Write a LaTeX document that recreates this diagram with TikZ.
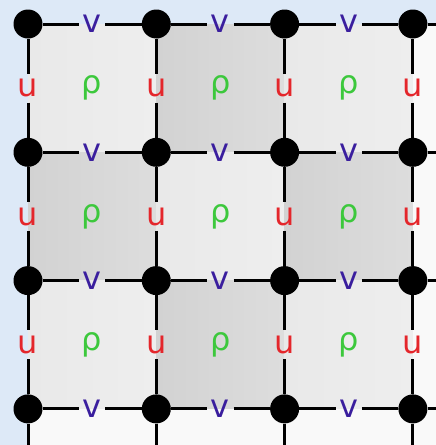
\documentclass[tikz,border=0pt]{standalone}
\usepackage{fontspec}
\setmainfont{DejaVu Sans}
\definecolor{bgblue}{HTML}{DDE9F7}
\definecolor{offwhite}{HTML}{F9F9F9}
\definecolor{ured}{HTML}{E4262B}
\definecolor{vblue}{HTML}{3A1E9E}
\definecolor{rgreen}{HTML}{3CC83C}
\definecolor{lightA}{HTML}{E9E9E9}
\definecolor{lightB}{HTML}{EEEEEE}
\definecolor{darkA}{HTML}{D2D2D2}
\definecolor{darkB}{HTML}{DDDDDD}
\begin{document}
\begin{tikzpicture}[x=1pt,y=-1pt,
  vert/.style={circle,fill=black,inner sep=0pt,minimum size=29pt},
  lab/.style={inner sep=4pt,font=\fontsize{32}{32}\selectfont},
  ulab/.style={lab,inner sep=5pt,text=ured},
  vlab/.style={lab,inner sep=3.5pt,text=vblue},
  rlab/.style={lab,text=rgreen},
  gridline/.style={line width=3pt,black}]
\useasboundingbox (0,0) rectangle (436,445);
% background
\fill[offwhite] (0,0) rectangle (436,445);
\fill[bgblue] (0,0) rectangle (436,24);
\fill[bgblue] (0,0) rectangle (28,445);
% cells
\foreach \i in {0,1,2}{
  \foreach \j in {0,1,2}{
    \pgfmathtruncatemacro{\parity}{mod(\i+\j,2)}
    \ifnum\parity=0
      \shade[left color=lightA,right color=lightB] ({28+128.3*\i},{24+128.3*\j}) rectangle ({28+128.3*(\i+1)},{24+128.3*(\j+1)});
    \else
      \shade[left color=darkA,right color=darkB] ({28+128.3*\i},{24+128.3*\j}) rectangle ({28+128.3*(\i+1)},{24+128.3*(\j+1)});
    \fi
  }
}
% vertices
\foreach \i in {0,...,3}{
  \foreach \j in {0,...,3}{
    \node[vert] (P\i\j) at ({28+128.3*\i},{24+128.3*\j}) {};
  }
}
% edge coordinates
\foreach \j in {0,...,3}{ \coordinate (E\j) at (436,{24+128.3*\j}); }
\foreach \i in {0,...,3}{ \coordinate (B\i) at ({28+128.3*\i},445); }
% v labels
\foreach \i in {0,1,2}{
  \foreach \j in {0,...,3}{
    \node[vlab] (V\i\j) at ({28+128.3*(\i+0.5)},{24+128.3*\j}) {v};
  }
}
% u labels
\foreach \i in {0,...,3}{
  \foreach \j in {0,1,2}{
    \node[ulab] (U\i\j) at ({28+128.3*\i},{24+128.3*(\j+0.5)}) {u};
  }
}
% rho labels
\foreach \i in {0,1,2}{
  \foreach \j in {0,1,2}{
    \node[rlab] (R\i\j) at ({28+128.3*(\i+0.5)},{24+128.3*(\j+0.5)}) {ρ};
  }
}
% horizontal lines
\foreach \j in {0,...,3}{
  \draw[gridline] (P0\j) -- (V0\j) -- (P1\j) -- (V1\j) -- (P2\j) -- (V2\j) -- (P3\j) -- (E\j);
}
% vertical lines
\foreach \i in {0,...,3}{
  \draw[gridline] (P\i0) -- (U\i0) -- (P\i1) -- (U\i1) -- (P\i2) -- (U\i2) -- (P\i3) -- (B\i);
}
\end{tikzpicture}
\end{document}
